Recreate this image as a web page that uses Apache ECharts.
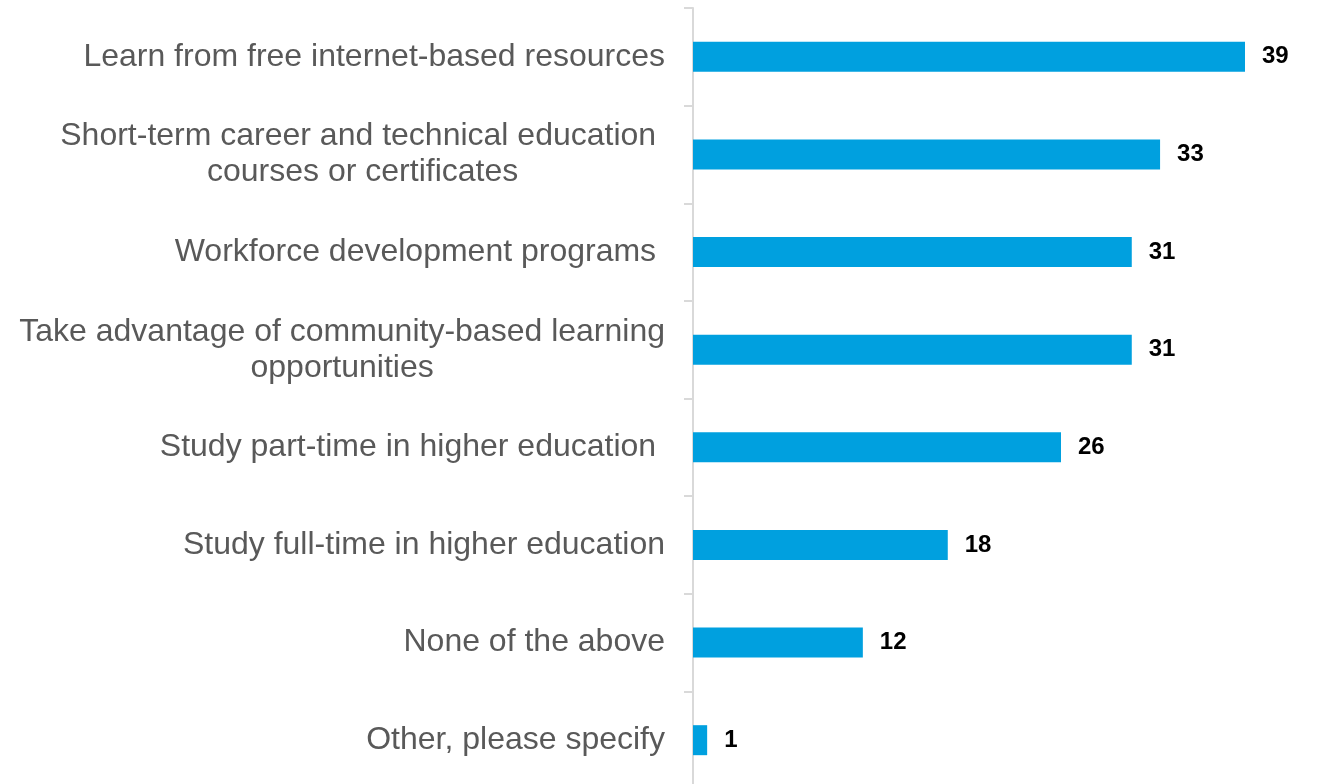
<!DOCTYPE html>
<html>
<head>
<meta charset="utf-8">
<script src="https://cdn.jsdelivr.net/npm/echarts@6/dist/echarts.min.js"></script>
<style>
  html, body { margin: 0; padding: 0; background: #ffffff; }
  #chart { width: 1319px; height: 784px; }
</style>
</head>
<body>
<div id="chart"></div>
<script>
// Survey answers, top to bottom
const categories = [
  'Learn from free internet-based resources',
  'Short-term career and technical education \ncourses or certificates',
  'Workforce development programs ',
  'Take advantage of community-based learning\nopportunities',
  'Study part-time in higher education ',
  'Study full-time in higher education',
  'None of the above',
  'Other, please specify'
];

// Percentage of respondents
const values = [39, 33, 31, 31, 26, 18, 12, 1];

const FONT = '"Liberation Sans", Arial, sans-serif';

// Wrapped labels: every line is centred inside the label block
function categoryLabel(value) {
  const lines = value.split('\n');
  if (lines.length === 1) return '{a|' + value + '}';
  return lines.map(function (l) { return '{mid|' + l + '}'; }).join('\n');
}

const chart = echarts.init(document.getElementById('chart'), null, { renderer: 'canvas' });

chart.setOption({
  backgroundColor: '#ffffff',
  animation: false,
  grid: { left: 693, top: 8, height: 781, width: 552, outerBoundsMode: 'none' },
  xAxis: {
    type: 'value',
    min: 0,
    max: Math.max.apply(null, values),
    show: false
  },
  yAxis: {
    type: 'category',
    data: categories,
    inverse: true,
    axisLine: { show: true, lineStyle: { color: '#d9d9d9', width: 2 } },
    axisTick: { show: true, length: 9, lineStyle: { color: '#d9d9d9', width: 2 } },
    splitLine: { show: false },
    axisLabel: {
      margin: 28,
      formatter: categoryLabel,
      rich: {
        a: { fontFamily: FONT, fontSize: 32, color: '#595959', lineHeight: 36 },
        mid: { fontFamily: FONT, fontSize: 32, color: '#595959', lineHeight: 36, align: 'center' }
      }
    }
  },
  series: [{
    type: 'bar',
    data: values,
    barWidth: 30,
    itemStyle: { color: '#00a0df' },
    label: {
      show: true,
      position: 'right',
      distance: 17,
      fontFamily: FONT,
      fontSize: 24,
      fontWeight: 'bold',
      color: '#000000'
    }
  }]
});
</script>
</body>
</html>
